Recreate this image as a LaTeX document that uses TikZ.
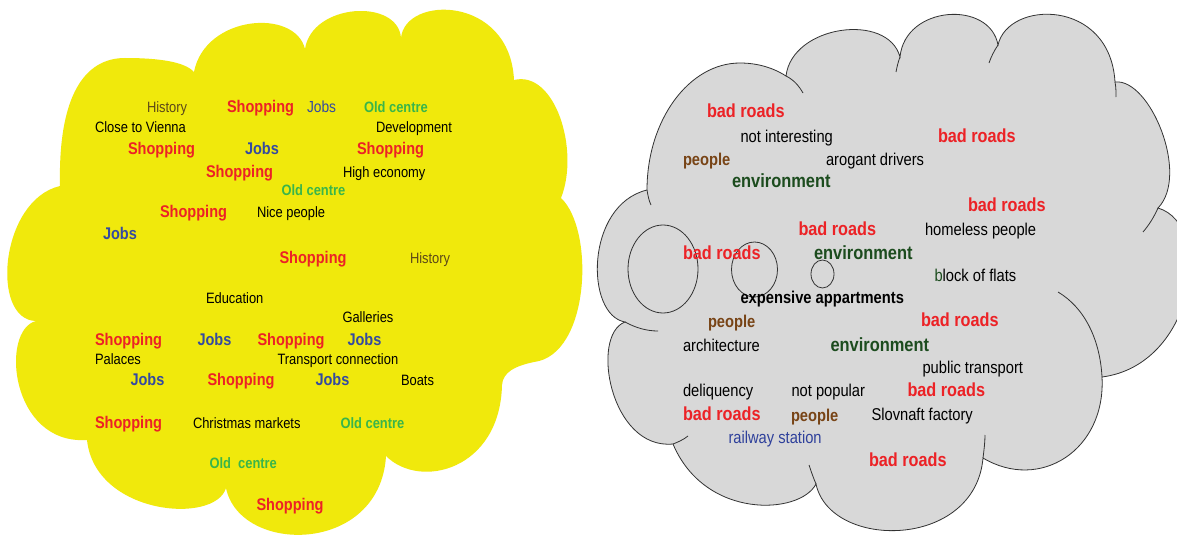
\documentclass[tikz,border=0pt]{standalone}
\usepackage{fontspec}
\setmainfont{Liberation Sans}[FakeStretch=0.86]
\definecolor{cYellow}{RGB}{240,233,12}
\definecolor{cGray}{RGB}{216,216,216}
\definecolor{cLine}{RGB}{50,50,50}
\definecolor{cRed}{RGB}{236,34,38}
\definecolor{cBlue}{RGB}{52,74,160}
\definecolor{cGreen}{RGB}{57,181,74}
\definecolor{cOlive}{RGB}{92,72,24}
\definecolor{cBrown}{RGB}{120,68,22}
\definecolor{cDkGreen}{RGB}{28,76,30}
\definecolor{cRail}{RGB}{46,64,155}
\begin{document}
\begin{tikzpicture}[x=1pt,y=-1pt,
  txt/.style={inner sep=0pt, outer sep=0pt, anchor=base west},
  lreg/.style={txt, font=\fontsize{15}{17}\selectfont, text=black},
  hist/.style={lreg, text=cOlive},
  shop/.style={txt, font=\fontsize{16.9}{19}\selectfont\bfseries, text=cRed},
  jobsb/.style={txt, font=\fontsize{16.9}{19}\selectfont\bfseries, text=cBlue},
  jobsr/.style={txt, font=\fontsize{16}{18}\selectfont, text=cBlue},
  oldc/.style={txt, font=\fontsize{15}{17}\selectfont\bfseries, text=cGreen},
  rreg/.style={txt, font=\fontsize{17.1}{19}\selectfont, text=black},
  rail/.style={rreg, text=cRail},
  bad/.style={txt, font=\fontsize{18.9}{21}\selectfont\bfseries, text=cRed},
  env/.style={txt, font=\fontsize{19.1}{21}\selectfont\bfseries, text=cDkGreen},
  ppl/.style={txt, font=\fontsize{17.1}{19}\selectfont\bfseries, text=cBrown},
  expn/.style={txt, font=\fontsize{17.1}{19}\selectfont\bfseries, text=black},
  outl/.style={draw=cLine, line width=0.8pt},
]
\useasboundingbox (0,0) rectangle (1177,535);
\fill[white] (0,0) rectangle (1177,535);

% ---------- left cloud ----------
\fill[cYellow] (60,186) .. controls (58,95) and (85,58) .. (125,58)
  .. controls (160,58) and (185,62) .. (194,72)
  .. controls (205,15) and (295,8) .. (305,49)
  .. controls (312,3) and (398,-2) .. (401,38)
  .. controls (405,-5) and (510,-5) .. (514,80)
  .. controls (555,70) and (580,150) .. (561,198)
  .. controls (595,230) and (590,355) .. (534,362)
  .. controls (515,366) and (503,372) .. (502,385)
  .. controls (500,470) and (420,490) .. (386,456)
  .. controls (380,555) and (240,555) .. (226,488)
  .. controls (215,525) and (95,515) .. (87,440)
  .. controls (10,445) and (0,330) .. (36,321)
  .. controls (-10,320) and (0,200) .. (60,186) -- cycle;

% ---------- right cloud ----------
\filldraw[fill=cGray, outl] (647,190) .. controls (647,120) and (689,63) .. (740,63)
  .. controls (756,63) and (772,67) .. (786,76)
  .. controls (792,25) and (888,12) .. (900,57)
  .. controls (905,5) and (990,0) .. (998,45)
  .. controls (1008,0) and (1110,-2) .. (1115,82)
  .. controls (1150,78) and (1190,175) .. (1158,208)
  .. controls (1215,225) and (1195,365) .. (1102,377)
  .. controls (1106,450) and (1040,492) .. (983,458)
  .. controls (975,550) and (830,550) .. (816,484)
  .. controls (800,515) and (705,520) .. (673,444)
  .. controls (610,450) and (590,335) .. (625,322)
  .. controls (585,315) and (585,205) .. (647,190) -- cycle;
% inner ends of the arcs
\draw[outl] (647,190) .. controls (648,196) and (649,201) .. (651,205);
\draw[outl] (786,76) .. controls (794,80) and (799,86) .. (803,93);
\draw[outl] (900,57) .. controls (898,62) and (897,67) .. (896,72);
\draw[outl] (998,45) .. controls (994,51) and (991,57) .. (989,63);
\draw[outl] (1115,82) .. controls (1116,87) and (1116,92) .. (1116,97);
\draw[outl] (1158,208) .. controls (1154,217) and (1149,225) .. (1143,232);
\draw[outl] (1102,377) .. controls (1100,340) and (1085,308) .. (1058,292);
\draw[outl] (983,458) .. controls (984,450) and (985,442) .. (985,435);
\draw[outl] (816,484) .. controls (813,477) and (811,471) .. (809,465);
\draw[outl] (673,444) .. controls (678,442) and (683,440) .. (688,436);
\draw[outl] (625,322) .. controls (636,328) and (647,331) .. (658,331);
\draw[outl] (663,269) ellipse [x radius=35, y radius=44];
\draw[outl] (754.5,269.5) ellipse [x radius=23, y radius=27.5];
\draw[outl] (822.5,274) ellipse [x radius=11.5, y radius=14];

% ---------- left texts ----------
\node[hist]  (l1)  at (147,112)   {History};
\node[shop]  (l2)  at (227,112.5) {Shopping};
\node[jobsr] (l3)  at (307,112.5) {Jobs};
\node[oldc]  (l4)  at (364,112)   {Old centre};
\node[lreg]  (l5)  at (95,132.5)  {Close to Vienna};
\node[lreg]  (l6)  at (376,132.5) {Development};
\node[shop]  (l7)  at (128,154.5) {Shopping};
\node[jobsb] (l8)  at (245,154.5) {Jobs};
\node[shop]  (l9)  at (357,154.5) {Shopping};
\node[shop]  (l10) at (206,177)   {Shopping};
\node[lreg]  (l11) at (343,177)   {High economy};
\node[oldc]  (l12) at (281.5,195) {Old centre};
\node[shop]  (l13) at (160,217.5) {Shopping};
\node[lreg]  (l14) at (257,217.5) {Nice people};
\node[jobsb] (l15) at (103,239.5) {Jobs};
\node[shop]  (l16) at (279.5,263) {Shopping};
\node[hist]  (l17) at (410,263)   {History};
\node[lreg]  (l18) at (206,303)   {Education};
\node[lreg]  (l19) at (342.5,322.5) {Galleries};
\node[shop]  (l20) at (95,345)    {Shopping};
\node[jobsb] (l21) at (197.5,345) {Jobs};
\node[shop]  (l22) at (257.5,345) {Shopping};
\node[jobsb] (l23) at (347.5,345) {Jobs};
\node[lreg]  (l24) at (95,364.5)  {Palaces};
\node[lreg]  (l25) at (277.5,364.5) {Transport connection};
\node[jobsb] (l26) at (130.5,385) {Jobs};
\node[shop]  (l27) at (207.5,385) {Shopping};
\node[jobsb] (l28) at (315.5,385) {Jobs};
\node[lreg]  (l29) at (401,385)   {Boats};
\node[shop]  (l30) at (95,428)    {Shopping};
\node[lreg]  (l31) at (193,428)   {Christmas markets};
\node[oldc]  (l32) at (340.5,428) {Old centre};
\node[oldc]  (l33) at (209.5,468) {Old\ \ centre};
\node[shop]  (l34) at (256.5,510) {Shopping};

% ---------- right texts ----------
\node[bad]  (r1)  at (707,117.5)   {bad roads};
\node[rreg] (r2)  at (740.5,142.3) {not interesting};
\node[bad]  (r3)  at (938,142)     {bad roads};
\node[ppl]  (r4)  at (683,165)     {people};
\node[rreg] (r5)  at (826,165)     {arogant drivers};
\node[env]  (r6)  at (732,187.5)   {environment};
\node[bad]  (r7)  at (968,211)     {bad roads};
\node[bad]  (r8)  at (798.5,235.3) {bad roads};
\node[rreg] (r9)  at (925,235.7)   {homeless people};
\node[bad]  (r10) at (683,259.3)   {bad roads};
\node[env]  (r11) at (814,259.3)   {environment};
\node[rreg] (r12) at (934.5,281.4) {{\color{cDkGreen}b}lock of flats};
\node[expn] (r13) at (740.5,303.5) {expensive appartments};
\node[ppl]  (r14) at (708,327.5)   {people};
\node[bad]  (r15) at (921,326.7)   {bad roads};
\node[rreg] (r16) at (683,351.4)   {architecture};
\node[env]  (r17) at (830.5,351)   {environment};
\node[rreg] (r18) at (922.5,373)   {public transport};
\node[rreg] (r19) at (683,396.7)   {deliquency};
\node[rreg] (r20) at (791.5,396.7) {not popular};
\node[bad]  (r21) at (907.5,396)   {bad roads};
\node[bad]  (r22) at (683,420)     {bad roads};
\node[ppl]  (r23) at (791,421)     {people};
\node[rreg] (r24) at (871.5,420.7) {Slovnaft factory};
\node[rail] (r25) at (728.5,443)   {railway station};
\node[bad]  (r26) at (869,466)     {bad roads};
\end{tikzpicture}
\end{document}
